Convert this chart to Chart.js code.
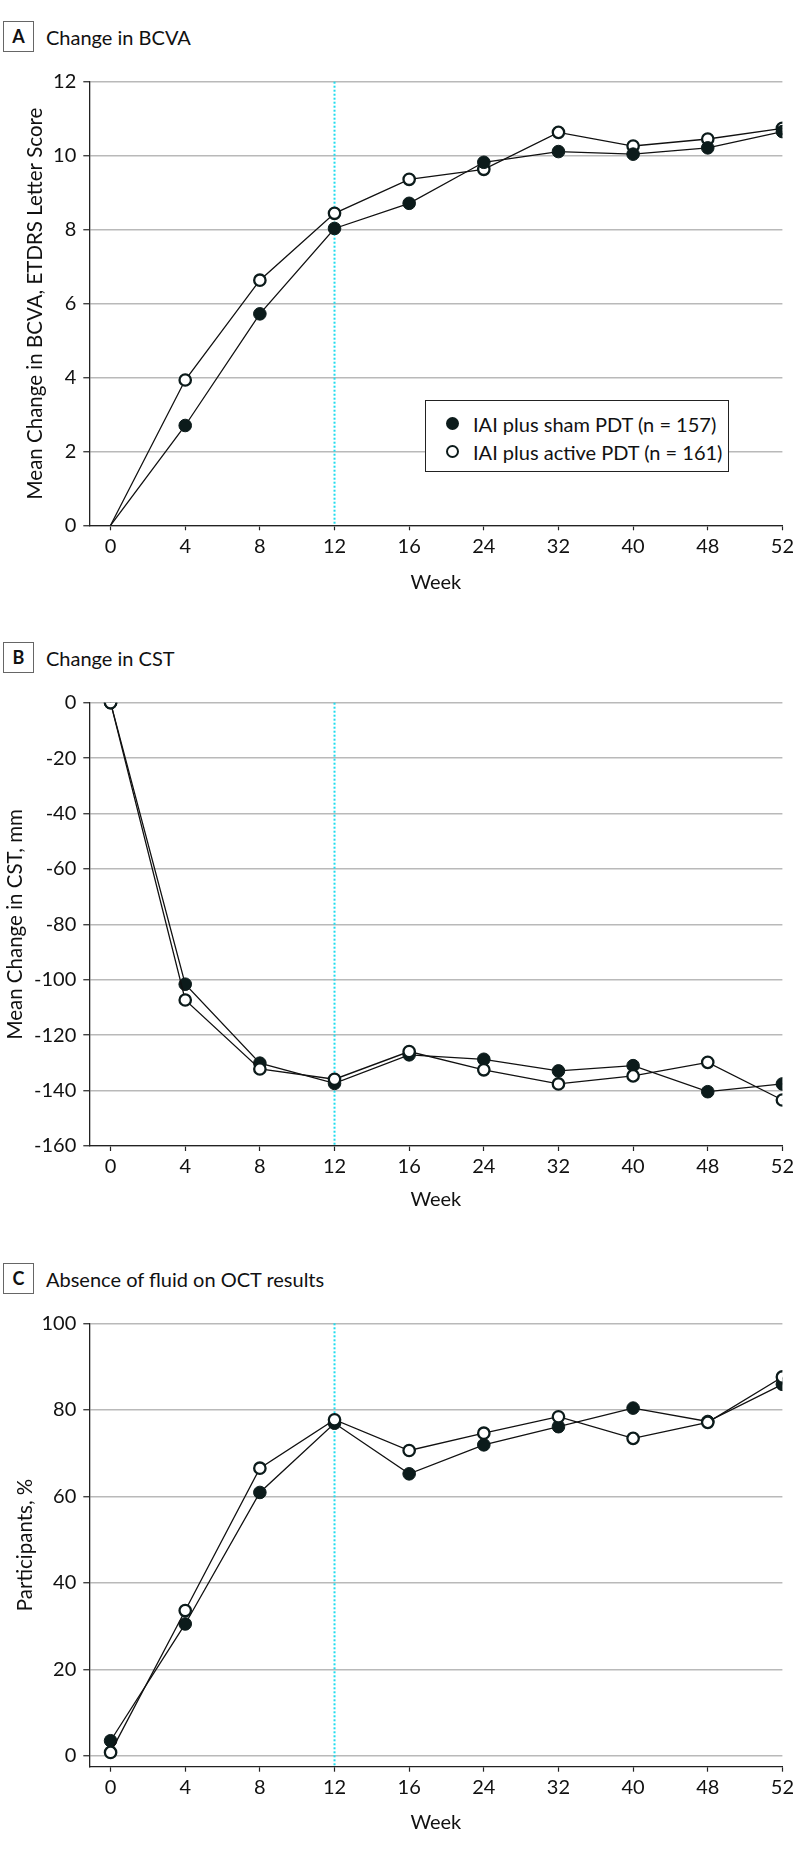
<!DOCTYPE html>
<html lang="en">
<head>
    <meta charset="UTF-8">
    <title>Change in BCVA, CST and fluid on OCT</title>
    <style>
        body {
            margin: 0;
            background: #fff;
            font-family: Lato, "Open Sans", sans-serif;
            color: #111;
        }
        #page {
            position: relative;
            width: 798px;
            height: 1852px;
        }
        .panel-label {
            position: absolute;
            left: 3px;
            width: 29px;
            height: 29px;
            border: 1.5px solid #666;
            font-weight: bold;
            font-size: 18px;
            line-height: 29px;
            text-align: center;
        }
        .panel-title {
            position: absolute;
            left: 46px;
            height: 32px;
            font-size: 20px;
            line-height: 32px;
            white-space: nowrap;
        }
        canvas {
            position: absolute;
            left: 0;
        }
        .legend {
            position: absolute;
            left: 425px;
            top: 400px;
            width: 302px;
            height: 70px;
            border: 1.5px solid #222;
            background: #fff;
            z-index: 2;
        }
        .legend .row {
            position: absolute;
            left: 0;
            height: 28px;
            line-height: 28px;
            font-size: 20px;
            white-space: nowrap;
        }
        .legend .dot {
            position: absolute;
            left: 20px;
            top: 7px;
            width: 13px;
            height: 13px;
            border-radius: 50%;
            box-sizing: border-box;
        }
        .legend .txt {
            position: absolute;
            left: 47px;
        }
    </style>
</head>
<body>
<div id="page">
    <div class="panel-label" style="top:21px">A</div>
    <div class="panel-title" style="top:21px">Change in BCVA</div>
    <canvas id="chartA" width="798" height="560" style="top:60px"></canvas>
    <div class="legend">
        <div class="row" style="top:9px">
            <span class="dot" style="background:#0c1b1b"></span>
            <span class="txt">IAI plus sham PDT (n = 157)</span>
        </div>
        <div class="row" style="top:37px">
            <span class="dot" style="background:#fff;border:2.2px solid #0c1b1b"></span>
            <span class="txt">IAI plus active PDT (n = 161)</span>
        </div>
    </div>

    <div class="panel-label" style="top:642px">B</div>
    <div class="panel-title" style="top:642px">Change in CST</div>
    <canvas id="chartB" width="798" height="560" style="top:680px"></canvas>

    <div class="panel-label" style="top:1263px">C</div>
    <div class="panel-title" style="top:1263px">Absence of fluid on OCT results</div>
    <canvas id="chartC" width="798" height="552" style="top:1300px"></canvas>
</div>

<script src="https://cdn.jsdelivr.net/npm/chart.js"></script>
<script>
    // visit weeks (x axis categories)
    const weeks = ['0', '4', '8', '12', '16', '24', '32', '40', '48', '52'];

    // A: mean change in BCVA, ETDRS letters
    const bcvaSham = [0, 2.70, 5.72, 8.03, 8.71, 9.82, 10.11, 10.04, 10.21, 10.65];
    const bcvaActive = [0, 3.93, 6.63, 8.44, 9.36, 9.63, 10.63, 10.26, 10.45, 10.74];
    const bcvaTicks = [0, 2, 4, 6, 8, 10, 12];

    // B: mean change in CST
    const cstSham = [0, -101.6, -130.1, -137.4, -127.1, -128.7, -132.9, -131.0, -140.4, -137.6];
    const cstActive = [0, -107.3, -132.2, -135.9, -125.9, -132.5, -137.6, -134.7, -129.8, -143.4];
    const cstTicks = [0, -20, -40, -60, -80, -100, -120, -140, -160];

    // C: participants with no fluid on OCT, %
    const fluidSham = [3.5, 30.5, 60.9, 76.9, 65.2, 71.9, 76.1, 80.4, 77.3, 85.9];
    const fluidActive = [0.8, 33.6, 66.5, 77.7, 70.6, 74.6, 78.4, 73.4, 77.1, 87.6];
    const fluidTicks = [0, 20, 40, 60, 80, 100];

    const shamLabel = 'IAI plus sham PDT (n = 157)';
    const activeLabel = 'IAI plus active PDT (n = 161)';

    const ink = '#0c1b1b';
    const font = 'Lato, "Open Sans", sans-serif';

    // dotted cyan line at week 12
    const week12Line = {
        id: 'week12Line',
        beforeDatasetsDraw(chart) {
            const ctx = chart.ctx;
            const x = chart.scales.x.getPixelForValue(weeks.indexOf('12'));
            const area = chart.chartArea;
            ctx.save();
            ctx.strokeStyle = '#1fdcee';
            ctx.lineWidth = 2;
            ctx.setLineDash([2, 2]);
            ctx.beginPath();
            ctx.moveTo(x, area.top);
            ctx.lineTo(x, area.bottom);
            ctx.stroke();
            ctx.restore();
        }
    };

    function toPoints(values) {
        return values.map(function (v, i) { return { x: i, y: v }; });
    }

    function buildPanel(id, cfg) {
        const H = document.getElementById(id).height;
        const titleSize = 20;
        const lineH = titleSize * 1.2;

        const sham = {
            label: shamLabel,
            data: toPoints(cfg.sham),
            borderColor: '#111',
            borderWidth: 1.3,
            pointBackgroundColor: ink,
            pointBorderColor: ink,
            pointBorderWidth: 1,
            pointRadius: function (c) { return cfg.hideFirst && c.dataIndex === 0 ? 0 : 6.3; },
            order: cfg.shamOnTop ? 0 : 1
        };
        const active = {
            label: activeLabel,
            data: toPoints(cfg.active),
            borderColor: '#111',
            borderWidth: 1.3,
            pointBackgroundColor: '#fff',
            pointBorderColor: ink,
            pointBorderWidth: 2.3,
            pointRadius: function (c) { return cfg.hideFirst && c.dataIndex === 0 ? 0 : 5.7; },
            order: cfg.shamOnTop ? 1 : 0
        };

        return new Chart(document.getElementById(id), {
            type: 'line',
            data: { datasets: [sham, active] },
            options: {
                responsive: false,
                animation: false,
                devicePixelRatio: 1,
                layout: { padding: { top: cfg.areaTop, right: 13.7, left: 0, bottom: 0 } },
                plugins: { legend: { display: false }, tooltip: { enabled: false } },
                scales: {
                    x: {
                        type: 'linear',
                        min: -0.285,
                        max: weeks.length - 1,
                        afterBuildTicks: function (s) {
                            s.ticks = weeks.map(function (w, i) { return { value: i }; });
                        },
                        afterFit: function (s) { s.height = H - cfg.areaBottom; },
                        grid: { drawOnChartArea: false, tickLength: 5, tickColor: '#222', tickWidth: 1.2 },
                        border: { color: '#222', width: 1.3 },
                        ticks: {
                            padding: 4,
                            color: '#111',
                            font: { family: font, size: 20 },
                            callback: function (v) { return weeks[v]; }
                        },
                        title: {
                            display: true,
                            text: 'Week',
                            color: '#111',
                            font: { family: font, size: titleSize },
                            padding: { top: 0, bottom: H - cfg.areaBottom - cfg.weekOffset - lineH / 2 }
                        }
                    },
                    y: {
                        min: cfg.yMin,
                        max: cfg.yMax,
                        afterBuildTicks: function (s) {
                            s.ticks = cfg.yTicks.map(function (v) { return { value: v }; });
                        },
                        afterFit: function (s) { s.width = 89.3; },
                        grid: { color: '#b9b9b9', lineWidth: 1.5, tickLength: 6, tickColor: '#222', tickWidth: 1.2 },
                        border: { color: '#222', width: 1.3 },
                        ticks: {
                            padding: 7,
                            color: '#111',
                            font: { family: font, size: 20 }
                        },
                        title: {
                            display: true,
                            text: cfg.yTitle,
                            color: '#111',
                            font: { family: font, size: 20.5 },
                            padding: { top: cfg.yTitleX - 20.5 * 1.2 / 2, bottom: 0 }
                        }
                    }
                }
            },
            plugins: [week12Line]
        });
    }

    buildPanel('chartA', {
        sham: bcvaSham, active: bcvaActive, yTicks: bcvaTicks,
        yMin: 0, yMax: 12, yTitle: 'Mean Change in BCVA, ETDRS Letter Score',
        areaTop: 21.7, areaBottom: 465.3, weekOffset: 57, yTitleX: 35,
        hideFirst: true, shamOnTop: true
    });

    buildPanel('chartB', {
        sham: cstSham, active: cstActive, yTicks: cstTicks,
        yMin: -160, yMax: 0, yTitle: 'Mean Change in CST, mm',
        areaTop: 22.7, areaBottom: 466, weekOffset: 54, yTitleX: 15,
        hideFirst: false, shamOnTop: false
    });

    buildPanel('chartC', {
        sham: fluidSham, active: fluidActive, yTicks: fluidTicks,
        yMin: -2.5, yMax: 100, yTitle: 'Participants, %',
        areaTop: 23.3, areaBottom: 466.7, weekOffset: 56, yTitleX: 25,
        hideFirst: false, shamOnTop: false
    });
</script>
</body>
</html>
